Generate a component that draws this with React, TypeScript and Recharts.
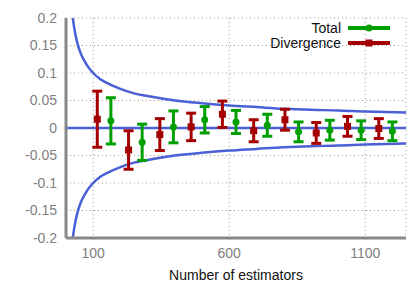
import React from 'react';
import {
  ComposedChart,
  Scatter,
  Line,
  XAxis,
  YAxis,
  CartesianGrid,
  ErrorBar,
  ReferenceLine,
  Legend,
} from 'recharts';

const divergenceX = [115, 230, 345, 460, 575, 690, 805, 920, 1035, 1150];
const divergenceMean = [0.016, -0.04, -0.012, 0.002, 0.025, -0.005, 0.015, -0.009, 0.003, -0.001];
const divergenceErr = [0.051, 0.035, 0.029, 0.025, 0.024, 0.02, 0.019, 0.019, 0.018, 0.018];

const totalX = [165, 280, 395, 510, 625, 740, 855, 970, 1085, 1200];
const totalMean = [0.013, -0.026, 0.002, 0.015, 0.011, 0.005, -0.007, -0.004, -0.004, -0.006];
const totalErr = [0.042, 0.033, 0.029, 0.024, 0.021, 0.02, 0.018, 0.018, 0.017, 0.017];

const boundX = [25, 30, 35, 40, 50, 60, 70, 80, 100, 125, 150, 200, 250, 300, 400, 500, 600, 700, 800, 900, 1000, 1100, 1250];
const upperBound = [0.2, 0.183, 0.169, 0.158, 0.141, 0.129, 0.12, 0.112, 0.1, 0.089, 0.082, 0.071, 0.063, 0.058, 0.05, 0.045, 0.041, 0.038, 0.035, 0.033, 0.032, 0.03, 0.028];
const lowerBound = [-0.2, -0.183, -0.169, -0.158, -0.141, -0.129, -0.12, -0.112, -0.1, -0.089, -0.082, -0.071, -0.063, -0.058, -0.05, -0.045, -0.041, -0.038, -0.035, -0.033, -0.032, -0.03, -0.028];

const xTicks = [100, 600, 1100];
const yTicks = [-0.2, -0.15, -0.1, -0.05, 0, 0.05, 0.1, 0.15, 0.2];

const seriesNames = ['Total', 'Divergence'];

const RED = '#a40000';
const GREEN = '#00a000';
const BLUE = '#4a60d6';
const FONT = '"Liberation Sans", Arial, sans-serif';

const divergenceData = divergenceX.map((x, i) => ({ x, y: divergenceMean[i], err: divergenceErr[i] }));
const totalData = totalX.map((x, i) => ({ x, y: totalMean[i], err: totalErr[i] }));
const upperData = boundX.map((x, i) => ({ x, y: upperBound[i] }));
const lowerData = boundX.map((x, i) => ({ x, y: lowerBound[i] }));

const SquareShape = (props: any) => (
  <rect x={props.cx - 3.5} y={props.cy - 3.5} width={7} height={7} fill={RED} />
);
const CircleShape = (props: any) => <circle cx={props.cx} cy={props.cy} r={3.5} fill={GREEN} />;

const LegendContent = () => (
  <svg width={407} height={60} style={{ display: 'block' }}>
    <g fontFamily={FONT} fontSize={14} fill="#111">
      <text x={341} y={28} dy="0.35em" textAnchor="end">{seriesNames[0]}</text>
      <line x1={348} y1={28} x2={390} y2={28} stroke={GREEN} strokeWidth={4} />
      <circle cx={369} cy={28} r={3.5} fill={GREEN} />
      <text x={341} y={43} dy="0.35em" textAnchor="end">{seriesNames[1]}</text>
      <line x1={348} y1={43} x2={390} y2={43} stroke={RED} strokeWidth={4} />
      <rect x={365.5} y={39.5} width={7} height={7} fill={RED} />
    </g>
  </svg>
);

export default function App() {
  return (
    <div style={{ position: 'absolute', left: 0, top: 0, width: 407, height: 285, background: '#fff' }}>
      <ComposedChart width={407} height={285} margin={{ top: 18, right: 1, left: 0, bottom: 0 }}>
        <CartesianGrid stroke="#999" strokeDasharray="1 3" />
        <XAxis
          dataKey="x"
          type="number"
          domain={[0, 1250]}
          ticks={xTicks}
          allowDataOverflow
          height={47}
          tickLine={false}
          tickSize={6}
          tickMargin={4}
          axisLine={{ stroke: '#888', strokeWidth: 3 }}
          tick={{ fill: '#808080', fontSize: 14, fontFamily: FONT }}
          label={{
            value: 'Number of estimators',
            position: 'insideBottom',
            offset: 5,
            fill: '#111',
            fontSize: 14,
            fontFamily: FONT,
          }}
        />
        <YAxis
          type="number"
          domain={[-0.2, 0.2]}
          ticks={yTicks}
          allowDataOverflow
          width={66}
          tickLine={false}
          tickSize={6}
          tickMargin={3}
          axisLine={{ stroke: '#888', strokeWidth: 3 }}
          tick={{ fill: '#808080', fontSize: 14, fontFamily: FONT }}
        />
        <ReferenceLine y={0} stroke={BLUE} strokeWidth={2.5} />
        <Line data={upperData} dataKey="y" type="monotone" stroke={BLUE} strokeWidth={2.5} dot={false} isAnimationActive={false} legendType="none" />
        <Line data={lowerData} dataKey="y" type="monotone" stroke={BLUE} strokeWidth={2.5} dot={false} isAnimationActive={false} legendType="none" />
        <Scatter name={seriesNames[1]} data={divergenceData} dataKey="y" fill={RED} shape={SquareShape} isAnimationActive={false}>
          <ErrorBar dataKey="err" direction="y" width={5} strokeWidth={3} stroke={RED} />
        </Scatter>
        <Scatter name={seriesNames[0]} data={totalData} dataKey="y" fill={GREEN} shape={CircleShape} isAnimationActive={false}>
          <ErrorBar dataKey="err" direction="y" width={5} strokeWidth={3} stroke={GREEN} />
        </Scatter>
        <Legend
          layout="horizontal"
          verticalAlign="middle"
          align="center"
          content={LegendContent}
          wrapperStyle={{ position: 'absolute', left: 0, top: 0, width: 407, height: 60, pointerEvents: 'none' }}
        />
      </ComposedChart>
    </div>
  );
}
